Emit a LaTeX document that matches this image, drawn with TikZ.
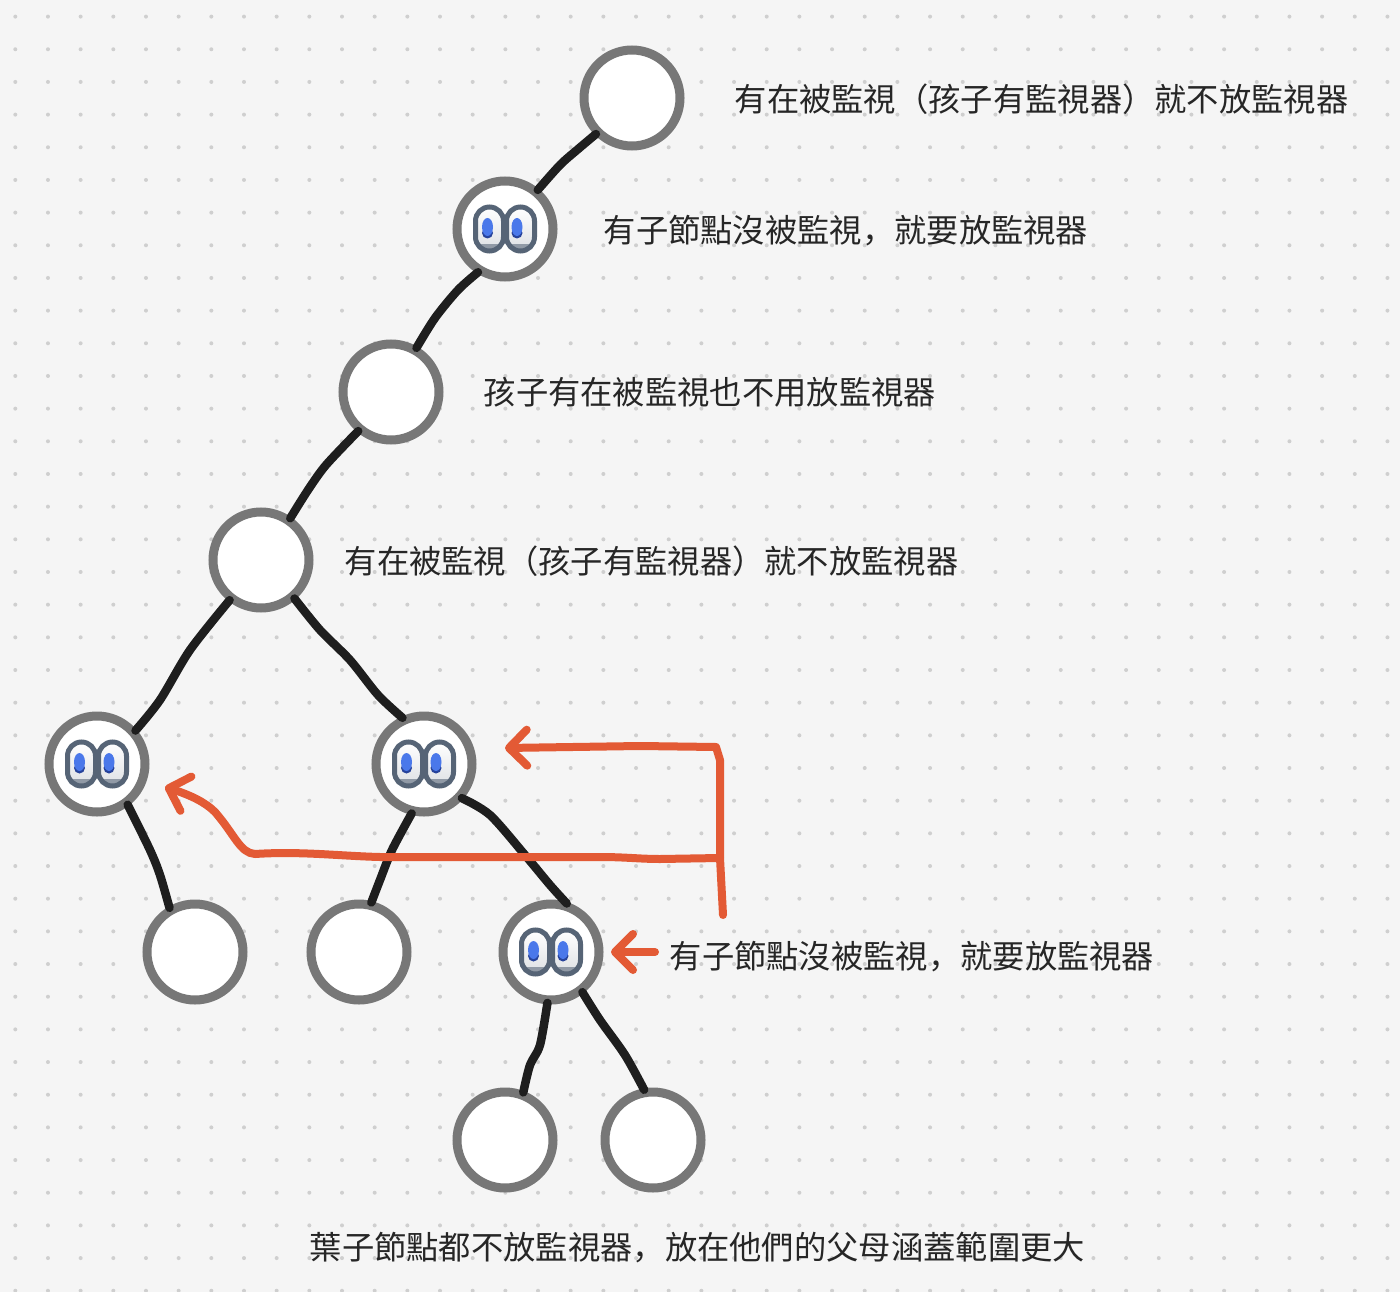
\documentclass[tikz,border=0pt]{standalone}
\usepackage{fontspec}
\usetikzlibrary{arrows.meta}
\setmainfont{Noto Sans CJK TC}
\newfontfamily\commafont{Noto Sans CJK SC}
\definecolor{bgpaper}{HTML}{F5F5F5}
\definecolor{griddot}{HTML}{CFCFCF}
\definecolor{ringgray}{HTML}{777777}
\definecolor{inkblack}{HTML}{1E1E1E}
\definecolor{inkred}{HTML}{E35A35}
\definecolor{eyeline}{HTML}{566476}
\definecolor{eyeblue}{HTML}{4A78EA}
\definecolor{eyenavy}{HTML}{27439B}
\tikzset{
	treenode/.style={circle,draw=ringgray,fill=white,line width=9pt,minimum size=96pt,inner sep=0pt,outer sep=3pt},
	edge/.style={line width=8.5pt,draw=inkblack,line cap=round,line join=round},
	redline/.style={line width=8pt,draw=inkred,line cap=round,line join=round},
	note/.style={anchor=west,inner sep=0pt,text=black!85,font=\fontsize{32.3pt}{36pt}\selectfont},
	eyes/.pic={
		\foreach \ex/\px in {-15.5/-17.5,15.5/12}{
			\begin{scope}
				\clip[rounded corners=14pt] (\ex-14,-22) rectangle (\ex+14,22);
				\shade[top color=white,bottom color=eyeline!20] (\ex-14,-22) rectangle (\ex+14,22);
				\fill[eyeline!65] (\ex-14,15) rectangle (\ex+14,22);
			\end{scope}
			\draw[eyeline,line width=5pt,rounded corners=14pt] (\ex-14,-22) rectangle (\ex+14,22);
			\fill[eyenavy] (\px,4) ellipse (5.5 and 5.5);
			\fill[eyeblue] (\px,-2) ellipse (5.5 and 9);
		}
	}
}
\begin{document}
\begin{tikzpicture}[x=1pt,y=-1pt,>={Straight Barb[round,length=18pt,width=36pt]}]
	\useasboundingbox (0,0) rectangle (1400,1292);
	\fill[bgpaper] (0,0) rectangle (1400,1292);
	\foreach \i in {0,...,42}{
		\foreach \j in {0,...,39}{
			\fill[griddot] (15.3+32.67*\i,16.6+32.67*\j) circle (2);
		}
	}

	% tree
	\node[treenode] (root) at (632,98) {};
	\node[treenode] (n1) at (505,229) {};
	\node[treenode] (n2) at (391,392) {};
	\node[treenode] (n3) at (261,560) {};
	\node[treenode] (left) at (97,764) {};
	\node[treenode] (right) at (424,764) {};
	\node[treenode] (leftleaf) at (195,952) {};
	\node[treenode] (midleaf) at (359,952) {};
	\node[treenode] (low) at (551,952) {};
	\node[treenode] (leafa) at (505,1140) {};
	\node[treenode] (leafb) at (653,1140) {};
	\foreach \n in {n1,left,right,low}{
		\pic at (\n) {eyes};
	}

	\draw[edge] plot[smooth,tension=0.5] coordinates {(root.225) (577,150) (560,165) (n1.50)};
	\draw[edge] plot[smooth,tension=0.5] coordinates {(n1.238) (458,290) (435,318) (n2.60)};
	\draw[edge] plot[smooth,tension=0.5] coordinates {(n2.230) (326,465) (308,490) (n3.55)};
	\draw[edge] plot[smooth,tension=0.5] coordinates {(n3.232) (190,650) (160,700) (left.41)};
	\draw[edge] plot[smooth,tension=0.5] coordinates {(n3.-49) (320,630) (350,660) (378,695) (right.115)};
	\draw[edge] plot[smooth,tension=0.5] coordinates {(left.-53) (150,850) (160,875) (leftleaf.120)};
	\draw[edge] plot[smooth,tension=0.5] coordinates {(right.256) (392,850) (380,880) (midleaf.76)};
	\draw[edge] plot[smooth,tension=0.5] coordinates {(right.-42) (490,815) (525,855) (550,885) (low.72)};
	\draw[edge] plot[smooth,tension=0.5] coordinates {(low.266) (540,1045) (530,1065) (leafa.69)};
	\draw[edge] plot[smooth,tension=0.5] coordinates {(low.-52) (600,1020) (625,1055) (leafb.100)};

	% notes
	\node[note] (note0) at (734.5,99) {有在被監視（孩子有監視器）就不放監視器};
	\node[note] (note1) at (603.5,231) {有子節點沒被監視{\commafont ，}就要放監視器};
	\node[note] (note2) at (483.5,392) {孩子有在被監視也不用放監視器};
	\node[note] (note3) at (344.5,561) {有在被監視（孩子有監視器）就不放監視器};
	\node[note] (note4) at (669.5,957) {有子節點沒被監視{\commafont ，}就要放監視器};
	\node[note] (note5) at (309.5,1248) {葉子節點都不放監視器{\commafont ，}放在他們的父母涵蓋範圍更大};

	% red arrows
	\coordinate (tail) at (723,915);
	\coordinate (bend) at (720,858);
	\coordinate (tipright) at (505,748);
	\coordinate (tipleft) at (165,787);
	\coordinate (tiplow) at (611,952);
	\coordinate (taillow) at (655,952);
	\draw[redline,->] (tail) -- (bend) -- (720,760) -- (716,747) -- (640,746) -- (tipright);
	\draw[redline,->] (bend) -- (660,859) .. controls (640,859) and (625,857) .. (600,857) -- (380,857) .. controls (340,856) and (300,851) .. (255,854) .. controls (240,853) and (235,835) .. (215,812) .. controls (205,802) and (190,795) .. (tipleft);
	\draw[redline,->] (taillow) -- (tiplow);
\end{tikzpicture}
\end{document}
